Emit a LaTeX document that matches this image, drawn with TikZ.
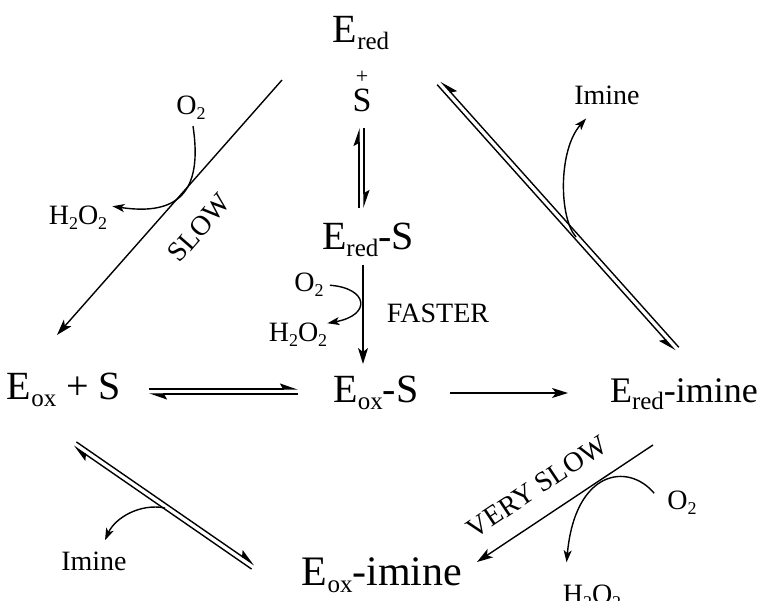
\documentclass[tikz,border=0pt]{standalone}
\usepackage{fontspec}
\setmainfont{Liberation Serif}
\usetikzlibrary{arrows.meta,calc}

% lowered subscripts for species and for small labels
\newcommand{\lo}[1]{\raisebox{-7pt}{\fontsize{25}{25}\selectfont #1}}
\newcommand{\slo}[1]{\raisebox{-5pt}{\fontsize{18}{18}\selectfont #1}}
\newcommand{\eqgap}{2.5pt}
% two half-headed arrows side by side (equilibrium)
\newcommand{\equil}[3][left]{%
  \begingroup
  \def\eqside{#1}\def\eqleft{left}%
  \ifx\eqside\eqleft \def\eqa{90}\def\eqb{-90}\else \def\eqa{-90}\def\eqb{90}\fi
  \draw[harp=#1] ($(#2)!\eqgap!\eqa:(#3)$) -- ($(#3)!\eqgap!\eqb:(#2)$);
  \draw[harp=#1] ($(#3)!\eqgap!\eqa:(#2)$) -- ($(#2)!\eqgap!\eqb:(#3)$);
  \endgroup}

\tikzset{
  species/.style={font=\fontsize{40}{44}\selectfont, inner sep=0pt, anchor=base},
  note/.style={font=\fontsize{28}{30}\selectfont, inner sep=0pt, anchor=base},
  rxn/.style={line width=1.4pt, -{Stealth[length=16pt,width=10pt,inset=4pt]}},
  sidearr/.style={line width=1.4pt, -{Stealth[length=12pt,width=8pt,inset=3pt]}},
  harp/.style={line width=1.4pt, -{Stealth[length=16pt,width=11pt,inset=3pt,#1]}},
}

\begin{document}
\begin{tikzpicture}[x=1pt, y=-1pt]
	\useasboundingbox (0,0) rectangle (761,601);
	% species
	\node[species] (Ered) at (361,43) {E\lo{red}};
	\node[note, anchor=center, font=\fontsize{22}{22}\selectfont] (plus) at (362,77) {+};
	\node[species, font=\fontsize{34}{36}\selectfont] (S) at (362,112) {S};
	\node[species] (EredS) at (368,250) {E\lo{red}-S};
	\node[species] (EoxpS) at (64,400) {E\lo{ox} + S};
	\node[species] (EoxS) at (376,403) {E\lo{ox}-S};
	\node[species, font=\fontsize{36}{40}\selectfont] (Eredim) at (684,403) {E\lo{red}-imine};
	\node[species, font=\fontsize{42}{46}\selectfont] (Eoxim) at (382,585) {E\lo{ox}-imine};
	% small labels
	\node[note] (oxA) at (191,115) {O\slo{2}};
	\node[note] (hpA) at (78,225) {H\slo{2}O\slo{2}};
	\node[note, anchor=center, rotate=49] (slow) at (199,228) {SLOW};
	\node[note] (oxB) at (309,292) {O\slo{2}};
	\node[note] (hpB) at (298,342) {H\slo{2}O\slo{2}};
	\node[note] (fast) at (438,323) {FASTER};
	\node[note] (imA) at (607,105) {Imine};
	\node[note] (imB) at (94,570) {Imine};
	\node[note, anchor=center, rotate=33.6] (vslow) at (537,487) {VERY SLOW};
	\node[note] (oxC) at (682,510) {O\slo{2}};
	\node[note] (hpC) at (592,603) {H\slo{2}O\slo{2}};
	% arrow ends
	\coordinate (vT) at (361.5,128);  \coordinate (vB) at (361.5,208);
	\coordinate (hL) at (149,391.5);  \coordinate (hR) at (298,391.5);
	\coordinate (trT) at (439,83);    \coordinate (trB) at (677,349);
	\coordinate (blT) at (75,444);    \coordinate (blB) at (253,567);
	\coordinate (slowT) at (282,80);  \coordinate (slowB) at (57,335);
	\coordinate (fastT) at (363,265); \coordinate (fastB) at (363,364);
	\coordinate (goL) at (450,393);   \coordinate (goR) at (568,393);
	\coordinate (vsT) at (653,445);   \coordinate (vsB) at (477,562);
	\coordinate (imOut) at (576,237); \coordinate (imOut2) at (165,508);
	% equilibria
	\equil{vT}{vB}
	\equil{hL}{hR}
	\equil[right]{trT}{trB}
	\equil{blT}{blB}
	% one-way steps
	\draw[rxn] (slowT) -- (slowB);
	\draw[rxn] (fastT) -- (fastB);
	\draw[rxn] (goL) -- (goR);
	\draw[rxn] (vsT) -- (vsB);
	% O2 taken up, H2O2 and imine given off
	\draw[sidearr] ($(oxA.south)+(2,6)$) .. controls (203,192) and (178,216) .. ($(hpA.north east)+(5,0)$);
	\draw[sidearr] ($(oxB.east)+(6,0)$) .. controls (368,288) and (372,315) .. (hpB.north east);
	\draw[sidearr] (imOut) .. controls (559,218) and (558,150) .. ($(imA.south west)+(12,13)$);
	\draw[sidearr] (imOut2) .. controls (140,503) and (115,518) .. ($(imB.north)+(11,-11)$);
	\draw[sidearr] ($(oxC.north west)+(-13,2)$) .. controls (628,462) and (575,470) .. ($(hpC.north west)+(4,-22)$);
\end{tikzpicture}
\end{document}
